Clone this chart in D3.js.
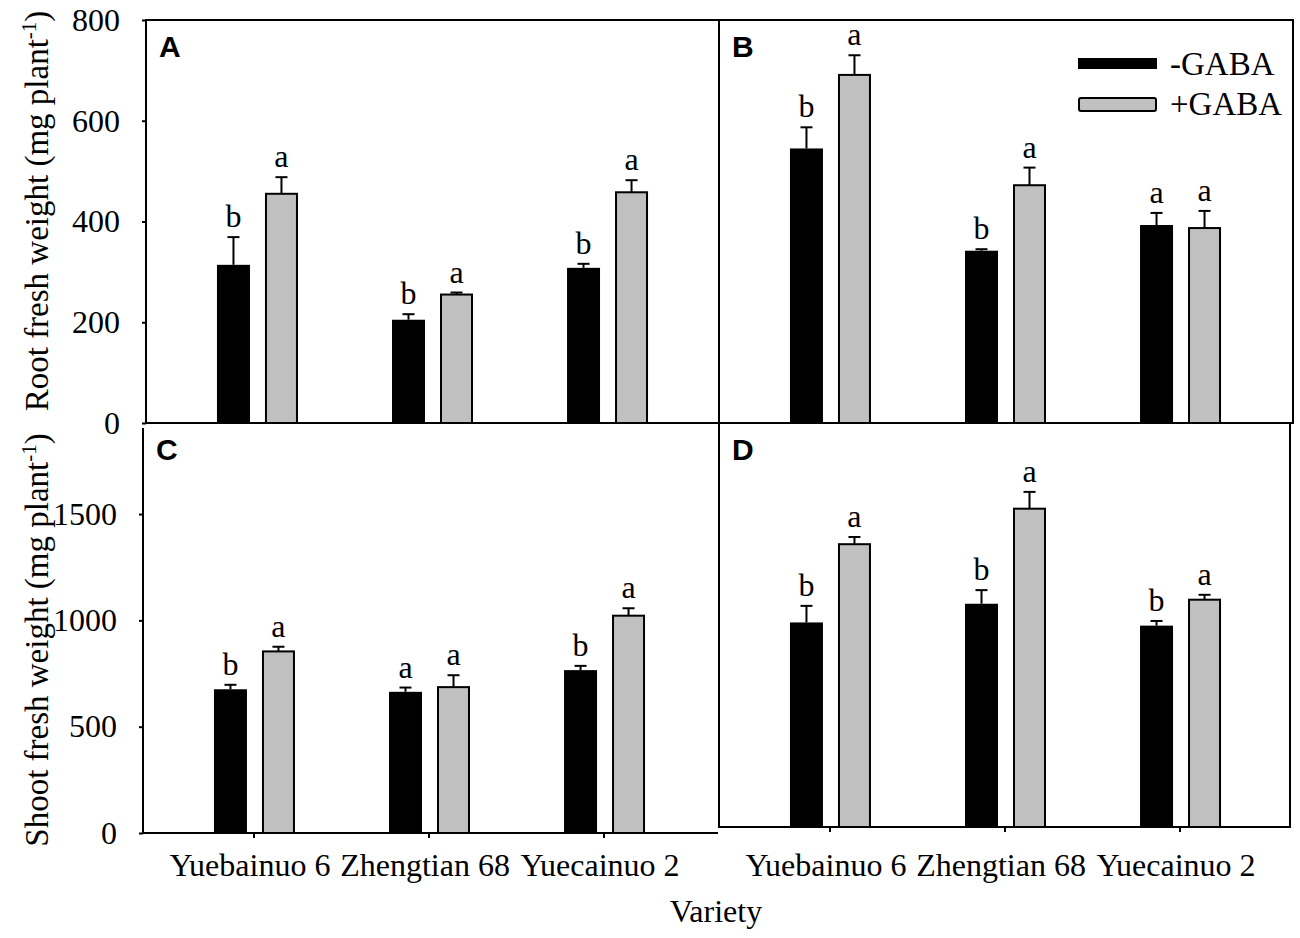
<!DOCTYPE html>
<html>
<head>
<meta charset="utf-8">
<script src="https://cdn.jsdelivr.net/npm/d3@7"></script>
<style>
body { margin: 0; background: #fff; }
</style>
</head>
<body>
<div id="chart"></div>
<script>
// categories and series
var varieties = ["Yuebainuo 6", "Zhengtian 68", "Yuecainuo 2"];
var treatments = ["-GABA", "+GABA"];
var rootTicks = [0, 200, 400, 600, 800];
var shootTicks = [0, 500, 1000, 1500];

// A: root fresh weight
var rootA_minus = [314, 205, 308];
var rootA_minusErr = [55, 11, 8];
var rootA_plus = [455, 255, 458];
var rootA_plusErr = [33, 4, 24];
var rootA_minusSig = ["b", "b", "b"];
var rootA_plusSig = ["a", "a", "a"];

// B
var rootB_minus = [545, 342, 393];
var rootB_minusErr = [42, 3, 24];
var rootB_plus = [691, 472, 387];
var rootB_plusErr = [39, 35, 34];
var rootB_minusSig = ["b", "b", "a"];
var rootB_plusSig = ["a", "a", "a"];

// C: shoot fresh weight
var shootC_minus = [676, 664, 766];
var shootC_minusErr = [21, 20, 20];
var shootC_plus = [854, 686, 1022];
var shootC_plusErr = [22, 56, 35];
var shootC_minusSig = ["b", "a", "b"];
var shootC_plusSig = ["a", "a", "a"];

// D
var shootD_minus = [962, 1050, 947];
var shootD_minusErr = [78, 64, 22];
var shootD_plus = [1330, 1497, 1069];
var shootD_plusErr = [34, 79, 23];
var shootD_minusSig = ["b", "b", "b"];
var shootD_plusSig = ["a", "a", "a"];

var serif = "'Liberation Serif', 'Times New Roman', serif";
var sans = "'Liberation Sans', Arial, sans-serif";

var w = 1300;
var h = 938;

var svg = d3.select("#chart")
    .append("svg")
    .attr("width", w)
    .attr("height", h);

var panels = [
    { id: "A", left: 146, top: 20, bottom: 423, max: 800, ticks: rootTicks, yAxis: true, xAxis: false,
      minus: rootA_minus, minusErr: rootA_minusErr, plus: rootA_plus, plusErr: rootA_plusErr,
      minusSig: rootA_minusSig, plusSig: rootA_plusSig, sides: ["top", "left", "bottom", "right"] },
    { id: "B", left: 719, top: 20, bottom: 423, max: 800, ticks: rootTicks, yAxis: false, xAxis: false,
      minus: rootB_minus, minusErr: rootB_minusErr, plus: rootB_plus, plusErr: rootB_plusErr,
      minusSig: rootB_minusSig, plusSig: rootB_plusSig, sides: ["top", "left", "bottom", "right"], rightX: 1293 },
    { id: "C", left: 143, top: 429, bottom: 833, max: 1900, ticks: shootTicks, yAxis: true, xAxis: true,
      minus: shootC_minus, minusErr: shootC_minusErr, plus: shootC_plus, plusErr: shootC_plusErr,
      minusSig: shootC_minusSig, plusSig: shootC_plusSig, sides: ["left", "bottom"], rightX: 717 },
    { id: "D", left: 719, top: 423, bottom: 827, max: 1900, ticks: shootTicks, yAxis: false, xAxis: true,
      minus: shootD_minus, minusErr: shootD_minusErr, plus: shootD_plus, plusErr: shootD_plusErr,
      minusSig: shootD_minusSig, plusSig: shootD_plusSig, sides: ["top", "left", "bottom", "right"], rightX: 1290 }
];

panels.forEach(drawPanel);

function drawPanel(p) {
    var right = p.rightX || p.left + 573;
    var g = svg.append("g");

    var x = d3.scaleBand()
        .domain(varieties)
        .range([p.left, p.left + 572])
        .paddingInner(0)
        .paddingOuter(0.134);

    // posicion de cada barra dentro del grupo
    var sub = d3.scaleBand()
        .domain(treatments)
        .range([-40, 41])
        .paddingInner(0.3125);

    var y = d3.scaleLinear()
        .domain([0, p.max])
        .range([p.bottom, p.top]);

    var rows = [];
    varieties.forEach(function(v, i) {
        rows.push({ v: v, t: "-GABA", val: p.minus[i], err: p.minusErr[i], sig: p.minusSig[i] });
        rows.push({ v: v, t: "+GABA", val: p.plus[i], err: p.plusErr[i], sig: p.plusSig[i] });
    });

    function cx(d) {
        return x(d.v) + x.bandwidth() / 2 + sub(d.t) + sub.bandwidth() / 2;
    }

    g.selectAll("rect.bar")
        .data(rows)
        .enter()
        .append("rect")
        .attr("class", "bar")
        .attr("x", function(d) { return x(d.v) + x.bandwidth() / 2 + sub(d.t) + (d.t == "+GABA" ? 1 : 0); })
        .attr("width", function(d) { return sub.bandwidth() - (d.t == "+GABA" ? 2 : 0); })
        .attr("y", function(d) { return y(d.val); })
        .attr("height", function(d) { return y(0) - y(d.val); })
        .attr("fill", function(d) { return d.t == "+GABA" ? "#c0c0c0" : "#000"; })
        .attr("stroke", "#000")
        .attr("stroke-width", function(d) { return d.t == "+GABA" ? 2 : 0; });

    // barras de error (solo hacia arriba)
    g.selectAll("line.err")
        .data(rows)
        .enter()
        .append("line")
        .attr("class", "err")
        .attr("x1", cx)
        .attr("x2", cx)
        .attr("y1", function(d) { return y(d.val); })
        .attr("y2", function(d) { return y(d.val + d.err); })
        .attr("stroke", "#000")
        .attr("stroke-width", 2);

    g.selectAll("line.cap")
        .data(rows)
        .enter()
        .append("line")
        .attr("class", "cap")
        .attr("x1", function(d) { return cx(d) - 6; })
        .attr("x2", function(d) { return cx(d) + 6; })
        .attr("y1", function(d) { return y(d.val + d.err); })
        .attr("y2", function(d) { return y(d.val + d.err); })
        .attr("stroke", "#000")
        .attr("stroke-width", 2);

    g.selectAll("text.sig")
        .data(rows)
        .enter()
        .append("text")
        .attr("class", "sig")
        .attr("x", cx)
        .attr("y", function(d) { return y(d.val + d.err) - 10; })
        .attr("text-anchor", "middle")
        .style("font-family", serif)
        .style("font-size", "32px")
        .text(function(d) { return d.sig; });

    // marco
    var lines = {
        top: [p.left, p.top, right, p.top],
        left: [p.left, p.top, p.left, p.bottom],
        bottom: [p.left, p.bottom, right, p.bottom],
        right: [right, p.top, right, p.bottom]
    };
    p.sides.forEach(function(s) {
        var c = lines[s];
        g.append("line")
            .attr("x1", c[0]).attr("y1", c[1])
            .attr("x2", c[2]).attr("y2", c[3])
            .attr("stroke", "#000")
            .attr("stroke-width", 2)
            .attr("stroke-linecap", "square");
    });

    if (p.yAxis) {
        var ya = g.append("g")
            .attr("transform", "translate(" + p.left + ",0)")
            .call(d3.axisLeft(y).tickValues(p.ticks).tickFormat(d3.format("d")).tickSize(4).tickPadding(22));
        ya.select(".domain").remove();
        ya.selectAll("line").attr("stroke-width", 2);
        ya.selectAll("text")
            .style("font-family", serif)
            .style("font-size", "32px")
            .attr("fill", "#000");
    }

    if (p.xAxis) {
        var xa = g.append("g")
            .attr("transform", "translate(0," + p.bottom + ")")
            .call(d3.axisBottom(x).tickSize(5).tickPadding(853 - p.bottom - 5));
        xa.select(".domain").remove();
        xa.selectAll("line").attr("stroke-width", 2);
        xa.selectAll("text")
            .attr("dx", -4)
            .style("font-family", serif)
            .style("font-size", "32px")
            .attr("fill", "#000");
    }

    svg.append("text")
        .attr("x", p.left + 13)
        .attr("y", p.top + 37 - (p.id == "C" ? 6 : 0))
        .style("font-family", sans)
        .style("font-weight", "bold")
        .style("font-size", "30px")
        .text(p.id);
}

// leyenda
var legend = svg.append("g");
treatments.forEach(function(t, i) {
    var ly = 58 + i * 40;
    legend.append("rect")
        .attr("x", 1078 + (i ? 1 : 0))
        .attr("y", ly)
        .attr("width", 79 - (i ? 2 : 0))
        .attr("height", i ? 13 : 11)
        .attr("rx", i ? 2 : 0)
        .attr("fill", i ? "#c0c0c0" : "#000")
        .attr("stroke", "#000")
        .attr("stroke-width", i ? 2 : 0);
    legend.append("text")
        .attr("x", 1170)
        .attr("y", ly + 17)
        .style("font-family", serif)
        .style("font-size", "33px")
        .text(t);
});

// titulos de ejes
function yTitle(label, cy) {
    var t = svg.append("text")
        .attr("transform", "translate(48," + cy + ") rotate(-90)")
        .attr("text-anchor", "middle")
        .style("font-family", serif)
        .style("font-size", "33px");
    t.append("tspan").text(label + " (mg plant");
    t.append("tspan").attr("dy", -12).style("font-size", "21px").text("-1");
    t.append("tspan").attr("dy", 12).text(")");
}
yTitle("Root fresh weight", 211);
yTitle("Shoot fresh weight", 640);

svg.append("text")
    .attr("x", 716)
    .attr("y", 922)
    .attr("text-anchor", "middle")
    .style("font-family", serif)
    .style("font-size", "32px")
    .text("Variety");
</script>
</body>
</html>
